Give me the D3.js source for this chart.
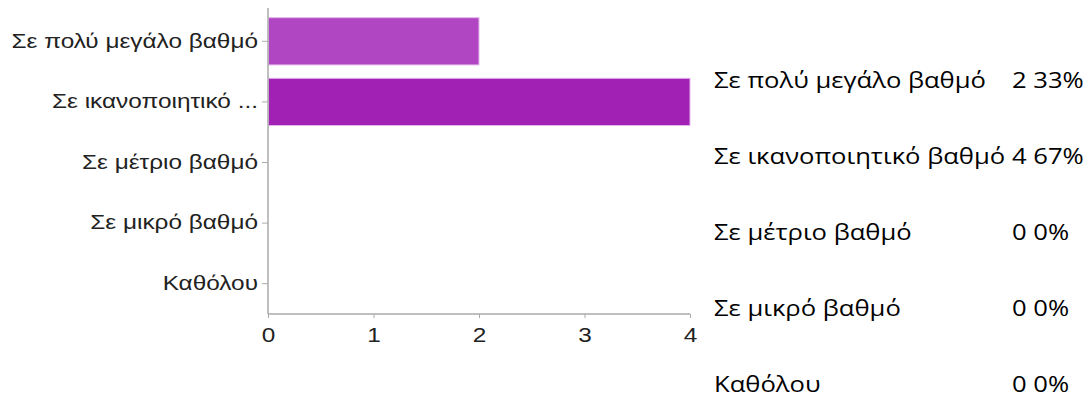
<!DOCTYPE html>
<html>
<head>
<meta charset="utf-8">
<script src="https://cdn.jsdelivr.net/npm/d3@7"></script>
<style>
  body { margin: 0; background: #fff; }
  svg { display: block; }
</style>
</head>
<body>
<div id="wrapper"></div>
<script>
// answer options, as shown on the axis (long one gets cut)
const categories = [
  "Σε πολύ μεγάλο βαθμό",
  "Σε ικανοποιητικό βαθμό",
  "Σε μέτριο βαθμό",
  "Σε μικρό βαθμό",
  "Καθόλου"
];
const axisLabels = [
  "Σε πολύ μεγάλο βαθμό",
  "Σε ικανοποιητικό ...",
  "Σε μέτριο βαθμό",
  "Σε μικρό βαθμό",
  "Καθόλου"
];
const counts = [2, 4, 0, 0, 0];
const percents = ["33%", "67%", "0%", "0%", "0%"];
const xTicks = [0, 1, 2, 3, 4];
const barColors = ["#b146c2", "#a221b5", "#a221b5", "#a221b5", "#a221b5"];

// the source picture is stretched sideways, so the text is too
const STRETCH = 1.25;
const TABLE_STRETCH = 1.22;

const dimensions = {
  width: 1091,
  height: 397,
  margin: { top: 11, left: 268, bottom: 83 }
};
dimensions.boundedWidth = 690 - dimensions.margin.left;
dimensions.boundedHeight = dimensions.height
  - dimensions.margin.top
  - dimensions.margin.bottom;

const wrapper = d3.select("#wrapper")
  .append("svg")
  .attr("width", dimensions.width)
  .attr("height", dimensions.height);

const bounds = wrapper.append("g")
  .attr("transform", `translate(${dimensions.margin.left},${dimensions.margin.top})`);

const xScale = d3.scaleLinear()
  .domain([0, 4])
  .range([0, dimensions.boundedWidth]);

const yScale = d3.scaleBand()
  .domain(categories)
  .range([0, dimensions.boundedHeight])
  .paddingInner(0.22)
  .paddingOuter(0.11);

bounds.selectAll("rect")
  .data(categories)
  .join("rect")
  .attr("x", 0.5)
  .attr("y", d => yScale(d))
  .attr("width", (d, i) => Math.max(0, xScale(counts[i]) - 0.5))
  .attr("height", yScale.bandwidth())
  .attr("fill", (d, i) => barColors[i])
  .attr("stroke", (d, i) => counts[i] > 0 ? "#e6b8ee" : "none")
  .attr("stroke-width", 1);

// y axis
const yAxisGenerator = d3.axisLeft(yScale)
  .tickSize(6)
  .tickPadding(4)
  .tickFormat((d, i) => axisLabels[i]);

const yAxis = bounds.append("g").call(yAxisGenerator);
yAxis.select(".domain").remove();
yAxis.append("line")
  .attr("x1", 0).attr("x2", 0)
  .attr("y1", -3).attr("y2", dimensions.boundedHeight)
  .attr("stroke", "#aaa")
  .attr("stroke-width", 1.5);
yAxis.selectAll(".tick line").attr("stroke", "#aaa");
yAxis.selectAll(".tick text")
  .attr("x", 0)
  .attr("transform", `translate(-10,0) scale(${STRETCH},1)`)
  .attr("fill", "#222")
  .style("font-family", "'Liberation Sans', Arial, sans-serif")
  .style("font-size", "19.5px");

// x axis
const xAxisGenerator = d3.axisBottom(xScale)
  .tickValues(xTicks)
  .tickSize(4)
  .tickPadding(10)
  .tickFormat(d3.format("d"));

const xAxis = bounds.append("g")
  .attr("transform", `translate(0,${dimensions.boundedHeight})`)
  .call(xAxisGenerator);
xAxis.select(".domain").attr("stroke", "#aaa").attr("stroke-width", 1.5)
  .attr("d", `M0,0H${dimensions.boundedWidth}`);
xAxis.selectAll(".tick line").attr("stroke", "#aaa").attr("y1", 0);
xAxis.selectAll(".tick text")
  .attr("transform", `scale(${STRETCH},1)`)
  .attr("fill", "#222")
  .style("font-family", "'Liberation Sans', Arial, sans-serif")
  .style("font-size", "19.5px");

// summary table on the right
const rowY = d3.scalePoint()
  .domain(categories)
  .range([88, 392]);

const table = wrapper.append("g")
  .style("font-family", "'Open Sans', 'Noto Sans', sans-serif")
  .style("font-size", "21px")
  .attr("fill", "#000");

table.selectAll("text.label")
  .data(categories)
  .join("text")
  .attr("class", "label")
  .attr("transform", d => `translate(714,${rowY(d)}) scale(${TABLE_STRETCH},1)`)
  .text(d => d);

table.selectAll("text.value")
  .data(categories)
  .join("text")
  .attr("class", "value")
  .attr("transform", d => `translate(1012,${rowY(d)}) scale(${TABLE_STRETCH},1)`)
  .text((d, i) => `${counts[i]} ${percents[i]}`);
</script>
</body>
</html>
